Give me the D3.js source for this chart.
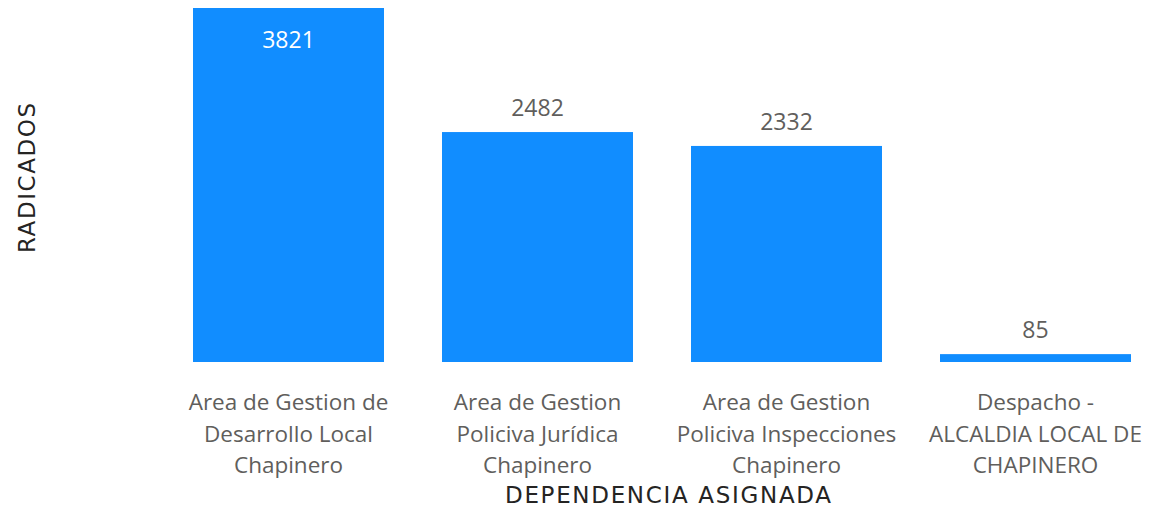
<!DOCTYPE html>
<html>
<head>
<meta charset="utf-8">
<script src="https://cdn.jsdelivr.net/npm/d3@7"></script>
<style>
  body { margin: 0; background: #fff; }
  svg { display: block; }
</style>
</head>
<body>
<div id="chart"></div>
<script>
// Data
const categories = [
  "Area de Gestion de\nDesarrollo Local\nChapinero",
  "Area de Gestion\nPoliciva Jurídica\nChapinero",
  "Area de Gestion\nPoliciva Inspecciones\nChapinero",
  "Despacho -\nALCALDIA LOCAL DE\nCHAPINERO"
];
const radicados = [3821, 2482, 2332, 85];
const xTitle = "DEPENDENCIA ASIGNADA";
const yTitle = "RADICADOS";

const width = 1153;
const height = 510;
const baseY = 362;

const svg = d3.select("#chart")
  .append("svg")
  .attr("width", width)
  .attr("height", height);

const data = categories.map((c, i) => ({ name: c, value: radicados[i] }));

// Scales
const x = d3.scaleBand()
  .domain(categories)
  .range([164, 1160])
  .paddingInner(0.233)
  .paddingOuter(0.1165);

const y = d3.scaleLinear()
  .domain([0, d3.max(radicados)])
  .range([baseY, 8]);

// Bars
svg.selectAll(".bar")
  .data(data)
  .join("rect")
  .attr("class", "bar")
  .attr("x", d => x(d.name))
  .attr("y", d => y(d.value))
  .attr("width", x.bandwidth())
  .attr("height", d => baseY - y(d.value))
  .attr("fill", "#118DFF");

// Value labels: inside the bar if it is tall enough, else above
const labelFont = "'Open Sans', 'Noto Sans', sans-serif";
svg.selectAll(".value")
  .data(data)
  .join("text")
  .attr("class", "value")
  .attr("x", d => x(d.name) + x.bandwidth() / 2)
  .attr("y", d => y(d.value) < 60 ? y(d.value) + 40 : y(d.value) - 16)
  .attr("text-anchor", "middle")
  .style("font-family", labelFont)
  .style("font-size", "23px")
  .style("fill", d => y(d.value) < 60 ? "#ffffff" : "#605E5C")
  .text(d => d.value);

// X axis (no line, no ticks, wrapped labels)
const xAxis = svg.append("g")
  .attr("transform", `translate(0,${baseY})`)
  .call(d3.axisBottom(x).tickSize(0).tickFormat(""));
xAxis.select(".domain").remove();

xAxis.selectAll(".tick").each(function(d) {
  const t = d3.select(this).append("text")
    .attr("text-anchor", "middle")
    .style("font-family", labelFont)
    .style("font-size", "22.5px")
    .style("fill", "#605E5C");
  d.split("\n").forEach((line, i) => {
    t.append("tspan")
      .attr("x", 0)
      .attr("y", 48 + i * 31.5)
      .text(line);
  });
});

// Axis titles
const titleFont = "'DejaVu Sans', sans-serif";
svg.append("text")
  .attr("x", 668)
  .attr("y", 503)
  .attr("text-anchor", "middle")
  .attr("textLength", 326)
  .attr("lengthAdjust", "spacing")
  .style("font-family", titleFont)
  .style("font-size", "23px")
  .style("fill", "#252423")
  .text(xTitle);

svg.append("text")
  .attr("transform", "translate(35,178) rotate(-90)")
  .attr("text-anchor", "middle")
  .attr("textLength", 150)
  .attr("lengthAdjust", "spacing")
  .style("font-family", titleFont)
  .style("font-size", "23px")
  .style("fill", "#252423")
  .text(yTitle);
</script>
</body>
</html>
